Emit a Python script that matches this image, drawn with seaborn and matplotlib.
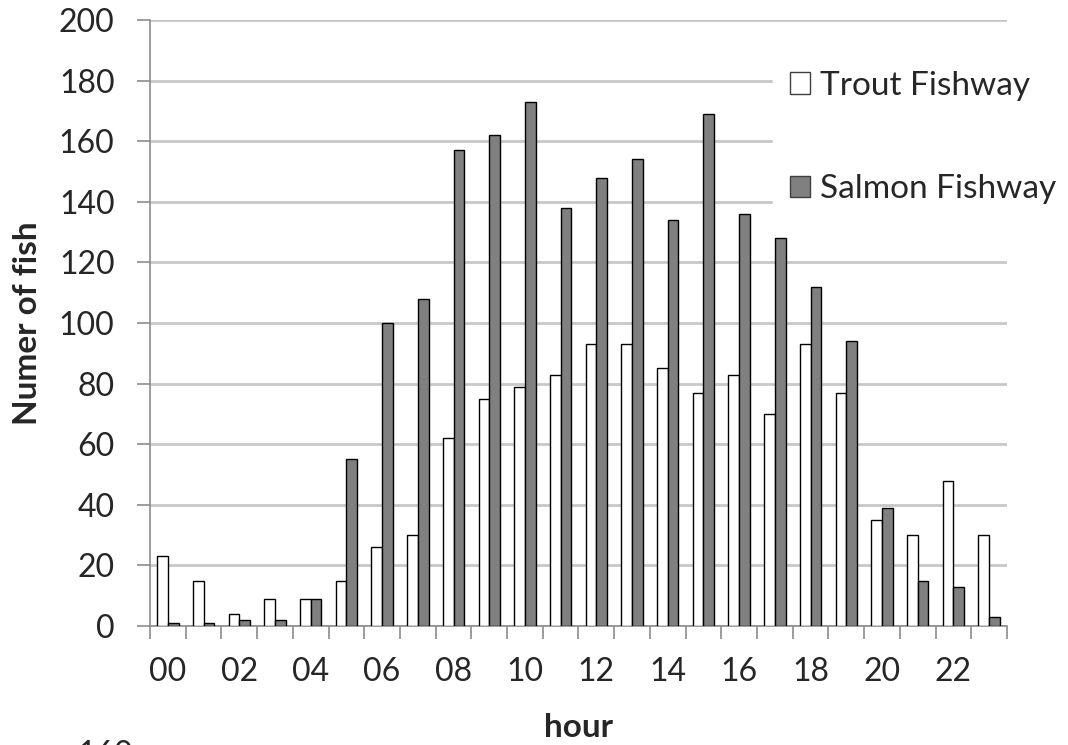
import matplotlib
matplotlib.use("Agg")
import matplotlib.pyplot as plt
import seaborn as sns
import pandas as pd
import numpy as np

# data
hours = ["00", "01", "02", "03", "04", "05", "06", "07", "08", "09", "10", "11",
         "12", "13", "14", "15", "16", "17", "18", "19", "20", "21", "22", "23"]
trout = [23, 15, 4, 9, 9, 15, 26, 30, 62, 75, 79, 83,
         93, 93, 85, 77, 83, 70, 93, 77, 35, 30, 48, 30]
salmon = [1, 1, 2, 2, 9, 55, 100, 108, 157, 162, 173, 138,
          148, 154, 134, 169, 136, 128, 112, 94, 39, 15, 13, 3]
series_names = ["Trout Fishway", "Salmon Fishway"]
y_ticks = [0, 20, 40, 60, 80, 100, 120, 140, 160, 180, 200]

df = pd.DataFrame({
    "hour": hours * 2,
    "series": [series_names[0]] * len(hours) + [series_names[1]] * len(hours),
    "count": trout + salmon,
})

sns.set_theme(style="white")
plt.rcParams["font.family"] = ["Lato", "DejaVu Sans"]

fig = plt.figure(figsize=(10.68, 7.45), dpi=100)
ax = fig.add_axes([150 / 1068, 1 - 626 / 745, 857 / 1068, 606 / 745])

sns.barplot(data=df, x="hour", y="count", hue="series", order=hours,
            hue_order=series_names,
            palette={"Trout Fishway": "white", "Salmon Fishway": "#808080"},
            edgecolor="black", linewidth=1.0, width=0.6, ax=ax, zorder=3)

ax.set_xlim(-0.5, len(hours) - 0.5)
ax.set_ylim(0, 200)
ax.set_yticks(y_ticks)
ax.yaxis.grid(True, color="#c8c8c8", linewidth=2, zorder=0)
ax.set_axisbelow(True)

# x labels every other hour, tick marks on category boundaries
ax.set_xticks(range(0, len(hours), 2))
ax.set_xticklabels(hours[::2])
ax.set_xticks(np.arange(-0.5, len(hours), 1), minor=True)
ax.tick_params(axis="x", which="major", length=0, pad=22, labelsize=23)
ax.tick_params(axis="x", which="minor", length=9, width=1.2, color="#8c8c8c",
               direction="out", bottom=True)
ax.tick_params(axis="y", which="major", length=9.5, width=1.2, color="#8c8c8c",
               direction="out", left=True, pad=16, labelsize=23)

for side in ["top", "right"]:
    ax.spines[side].set_visible(False)
for side in ["left", "bottom"]:
    ax.spines[side].set_color("#8c8c8c")
    ax.spines[side].set_linewidth(1.2)

ax.set_xlabel("hour", fontsize=24, fontweight="bold", labelpad=19)
ax.set_ylabel("Numer of fish", fontsize=24, fontweight="bold", labelpad=12)

leg = ax.legend(loc="upper left", bbox_to_anchor=(773 / 1068, 1 - 54 / 745),
                bbox_transform=fig.transFigure, frameon=True, fontsize=24,
                handlelength=0.6, handleheight=0.6, handletextpad=0.3,
                labelspacing=2.2, borderaxespad=0, borderpad=0.5,
                fancybox=False, edgecolor="white", framealpha=1)
for h in leg.legend_handles:
    h.set_linewidth(1.0)
    h.set_edgecolor("#404040")

# stray label partially cut at the bottom edge of the source image
fig.text(77 / 1068, 1 - 740 / 745, "160", fontsize=23, va="top", ha="left")

fig.savefig("out.png", dpi=100)
